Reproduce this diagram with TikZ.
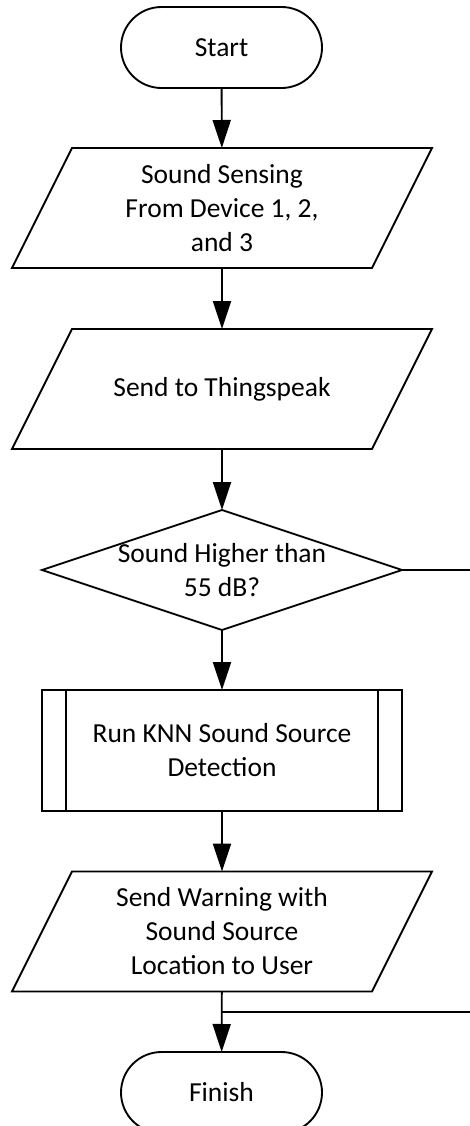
\documentclass[tikz,border=0pt]{standalone}
\usepackage{fontspec}
\setmainfont{Carlito}
\usetikzlibrary{shapes.geometric,shapes.misc,arrows.meta}
\tikzset{
  base/.style={draw, line width=0.75pt, inner sep=0pt, outer sep=0pt, align=center,
    font=\fontsize{11}{13.6}\selectfont},
  terminal/.style={base, rounded rectangle, minimum width=80.4pt, minimum height=32.4pt},
  io/.style={base, draw=none, rectangle, minimum width=144pt, minimum height=48pt,
    append after command={\pgfextra{
      \draw[line width=0.75pt] ([xshift=12pt]\tikzlastnode.north west)
        -- ([xshift=12pt]\tikzlastnode.north east)
        -- ([xshift=-12pt]\tikzlastnode.south east)
        -- ([xshift=-12pt]\tikzlastnode.south west) -- cycle;
    }}},
  decision/.style={base, diamond, minimum width=144pt, minimum height=48pt},
  subproc/.style={base, rectangle, minimum width=144pt, minimum height=48.4pt,
    path picture={
      \draw[line width=0.75pt] ([xshift=9.6pt]path picture bounding box.north west)
        -- ([xshift=9.6pt]path picture bounding box.south west);
      \draw[line width=0.75pt] ([xshift=-9.6pt]path picture bounding box.north east)
        -- ([xshift=-9.6pt]path picture bounding box.south east);
    }},
  flow/.style={line width=0.75pt, -{Triangle[length=11.2pt,width=7.2pt]}},
  line/.style={line width=0.75pt}
}
\begin{document}
\begin{tikzpicture}[x=0.4pt,y=-0.4pt]
  \useasboundingbox (0,0) rectangle (470,1126);
  \node[terminal] (start) at (221.5,47.5) {Start};
  \node[io] (sense) at (222,208) {Sound Sensing\\From Device 1, 2,\\and 3};
  \node[io] (send) at (222,389) {Send to Thingspeak};
  \node[decision, label={[base, draw=none]center:Sound Higher than\\55 dB?}] (check) at (222,570) {};
  \node[subproc] (knn) at (222,750.5) {Run KNN Sound Source\\Detection};
  \node[io] (warn) at (222,931.5) {Send Warning with\\Sound Source\\Location to User};
  \node[terminal] (finish) at (221.5,1092.5) {Finish};
  \coordinate (noturn) at (480,570);
  \coordinate (join) at (222,1012);
  \draw[flow] (start) -- (sense);
  \draw[flow] (sense) -- (send);
  \draw[flow] (send) -- (check);
  \draw[flow] (check) -- (knn);
  \draw[flow] (knn) -- (warn);
  \draw[flow] (warn) -- (finish);
  \draw[line] (check.east) -- (noturn) |- (join);
\end{tikzpicture}
\end{document}
